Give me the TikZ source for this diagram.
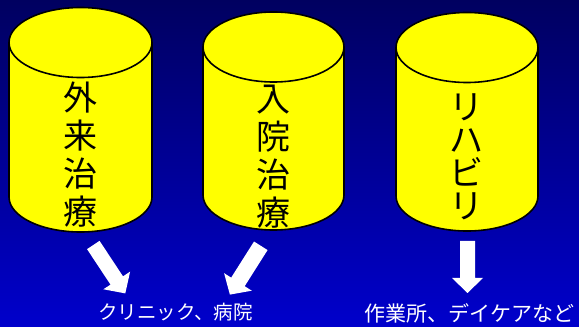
\documentclass[tikz,border=0pt]{standalone}
\usepackage{fontspec}
\newfontfamily\jp{Noto Sans CJK JP}
\usetikzlibrary{calc}
\definecolor{bgtop}{RGB}{0,0,96}
\definecolor{bgmid}{RGB}{0,0,166}
\definecolor{bgbot}{RGB}{0,0,204}
\definecolor{cylfill}{RGB}{255,255,0}
\tikzset{
  cylline/.style={draw=black, line width=1.6pt, fill=cylfill},
  vlabel/.style={font=\jp\fontsize{34}{38}\selectfont, align=center, text=black, inner sep=0pt},
  vlabelk/.style={font=\jp\fontsize{34}{33}\selectfont, align=center, text=black, inner sep=0pt},
  blabel/.style={text=white, inner sep=0pt},
  blockarrow/.style={fill=white, draw=none}
}
% \mycyl{cx}{rx}{top center y}{bottom center y}{ry}
\newcommand{\mycyl}[5]{%
  \path[cylline] (#1-#2,#3) -- (#1-#2,#4)
     arc[start angle=180,end angle=360,x radius=#2pt,y radius=#5pt]
     -- (#1+#2,#3)
     arc[start angle=0,end angle=180,x radius=#2pt,y radius=#5pt] -- cycle;
  \draw[line width=1.6pt] (#1+#2,#3) arc[start angle=0,end angle=-180,x radius=#2pt,y radius=#5pt];
}
% \myarrow{tail}{tip}{shaft half}{head half}{head length}
\newcommand{\myarrow}[5]{%
  \fill[blockarrow]
    ($(#1)!#3!90:(#2)$) --
    ($($(#2)!#5!(#1)$)!#3!90:(#2)$) --
    ($($(#2)!#5!(#1)$)!#4!90:(#2)$) --
    (#2) --
    ($($(#2)!#5!(#1)$)!#4!-90:(#2)$) --
    ($($(#2)!#5!(#1)$)!#3!-90:(#2)$) --
    ($(#1)!#3!-90:(#2)$) -- cycle;
}
\begin{document}
\begin{tikzpicture}[x=1pt,y=1pt]
\useasboundingbox (0,0) rectangle (579,327);
\shade[top color=bgtop, middle color=bgmid, bottom color=bgbot] (0,0) rectangle (579,327);

% cylinders
\mycyl{80.5}{71.5}{284.5}{130}{35}
\mycyl{273.5}{70.5}{280}{132}{35}
\mycyl{467}{71}{279.5}{131}{35}

\node[vlabel] (t1) at (80,172) {外\\来\\治\\療};
\node[vlabel] (t2) at (273,170.5) {入\\院\\治\\療};
\node[vlabelk] (t3) at (466,170) {リ\\ハ\\ビ\\リ};

% labels
\node[blabel, font=\jp\fontsize{19.5}{22}\selectfont] (l1) at (175.5,15) {クリニック、病院};
\node[blabel, font=\jp\fontsize{21}{24}\selectfont] (l2) at (469,14) {作業所、デイケアなど};

% arrows
\coordinate (a1s) at (93.3,82);
\coordinate (a1e) at (125.3,33.6);
\coordinate (a2s) at (260.8,81.2);
\coordinate (a2e) at (229.9,32.4);
\coordinate (a3s) at (467.5,86);
\coordinate (a3e) at (467.5,34);
\myarrow{a1s}{a1e}{7.5pt}{16pt}{15.5pt}
\myarrow{a2s}{a2e}{8pt}{16.4pt}{15pt}
\myarrow{a3s}{a3e}{7.5pt}{15.5pt}{15pt}
\end{tikzpicture}
\end{document}
